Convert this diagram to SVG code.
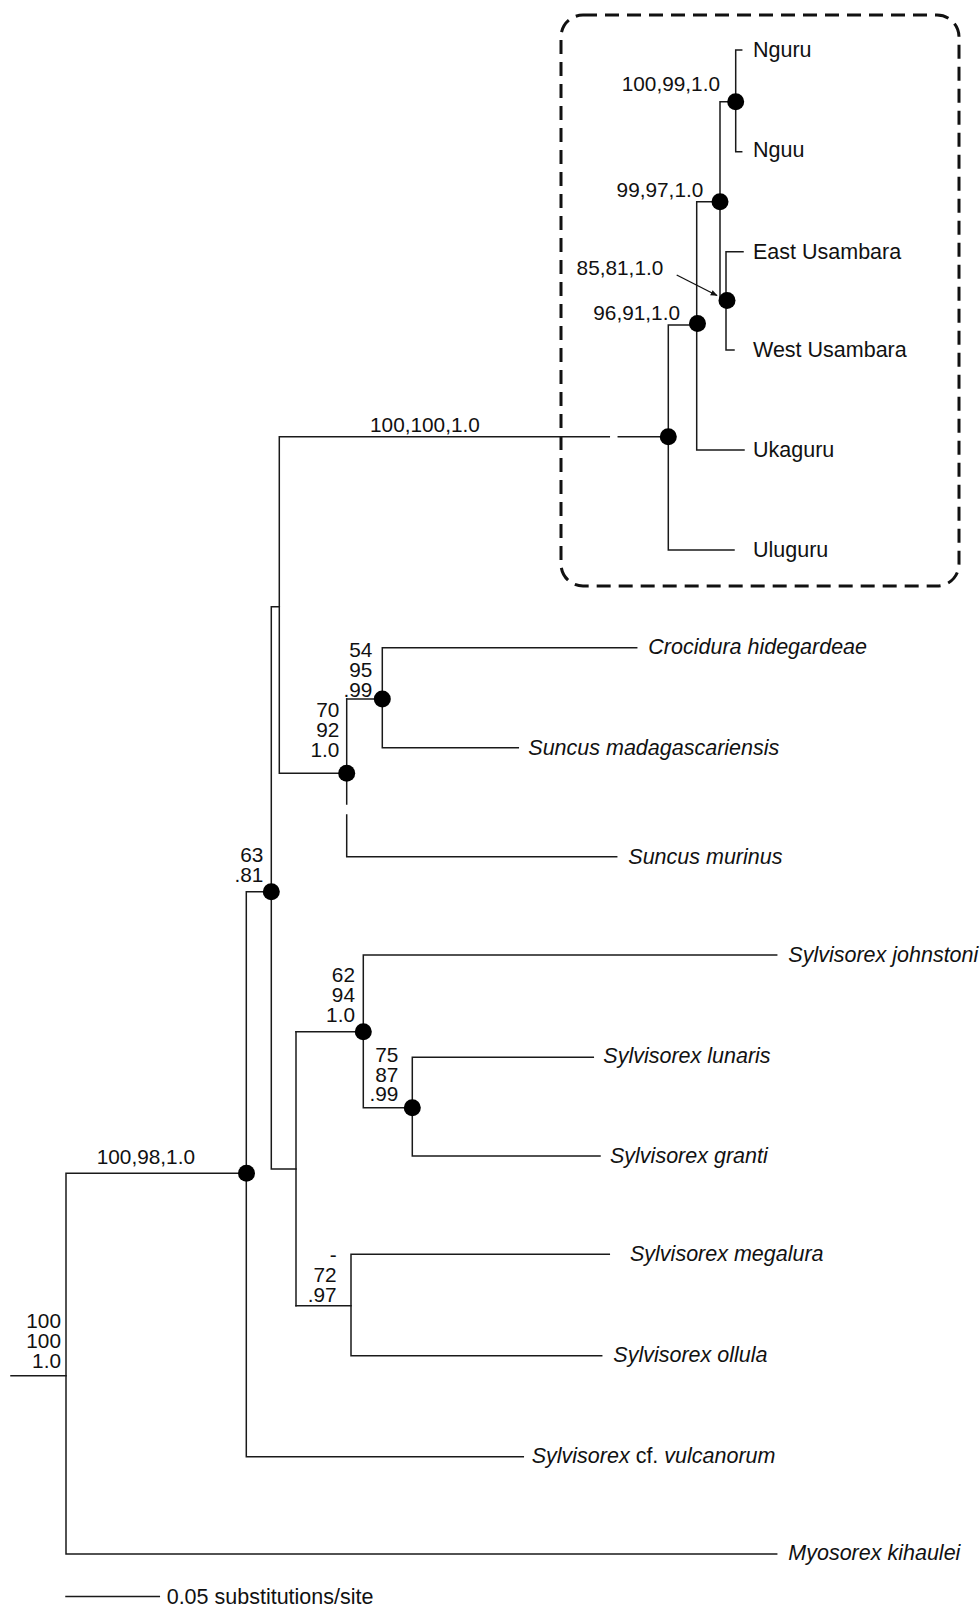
<svg xmlns="http://www.w3.org/2000/svg" width="980" height="1608" viewBox="0 0 980 1608">
<defs>
<style>
.br{fill:none;stroke:#1a1a1a;stroke-width:1.5;stroke-linecap:square}
.dot{fill:#000}
text{font-family:"Liberation Sans",Arial,Helvetica,sans-serif;font-size:21.5px;fill:#111}
.s{font-size:20.8px}
.it{font-style:italic}
.r{text-anchor:end}
.box{fill:none;stroke:#111;stroke-width:3;stroke-dasharray:14 8}
</style>
<marker id="ah" viewBox="0 0 10 10" refX="9" refY="5" markerWidth="7" markerHeight="7" orient="auto" markerUnits="userSpaceOnUse">
<path d="M0,1 L10,5 L0,9 z" fill="#111"/>
</marker>
</defs>
<rect width="980" height="1608" fill="#fff"/>

<rect id="eastern-arc-box" class="box" x="561" y="15" width="398" height="571" rx="22"/>

<g id="connectors">
<path class="br" d="M741.7,50 H735.7 V151.7 H741.7"/>
<path class="br" d="M735.7,101.7 H720 V300 H726"/>
<path class="br" d="M743,251.7 H726 V350 H734"/>
<path class="br" d="M720,201.7 H696.7 V450 H744"/>
<path class="br" d="M697,325 H668.3 V550 H734"/>
<path class="br" d="M668.3,436.7 H618.3"/>
<path class="br" d="M609.3,436.7 H279.3 V773.3 H346.7"/>
<path class="br" d="M346.7,699 V804"/>
<path class="br" d="M346.7,815 V856.7 H616.7"/>
<path class="br" d="M346.7,699 H382.3"/>
<path class="br" d="M636.7,647.7 H382.3 V747.7 H518.3"/>
<path class="br" d="M279.3,606.7 H271.3 V1169 H296"/>
<path class="br" d="M271.3,891.7 H246.3 V1456.7 H523.3"/>
<path class="br" d="M296,1031.7 V1305.7"/>
<path class="br" d="M296,1031.7 H363.3"/>
<path class="br" d="M776.7,955 H363.3 V1107.7 H412.3"/>
<path class="br" d="M593.3,1057.3 H412.3 V1156 H600"/>
<path class="br" d="M296,1305.7 H351"/>
<path class="br" d="M609.3,1254.3 H351 V1355.7 H601.7"/>
<path class="br" d="M246.3,1173.3 H66 V1554 H776.7"/>
<path class="br" d="M11,1375.7 H66"/>
<path d="M676.7,275 L717,295.5" fill="none" stroke="#111" stroke-width="1.3" marker-end="url(#ah)"/>
<path class="br" d="M66,1596.5 H159.3"/>
</g>

<g id="nodes">
<circle class="dot" cx="735.7" cy="101.7" r="8.5"/>
<circle class="dot" cx="720" cy="201.7" r="8.5"/>
<circle class="dot" cx="727" cy="300.5" r="8.5"/>
<circle class="dot" cx="697.5" cy="323.5" r="8.5"/>
<circle class="dot" cx="668.3" cy="436.7" r="8.5"/>
<circle class="dot" cx="382.3" cy="699" r="8.5"/>
<circle class="dot" cx="346.7" cy="773.3" r="8.5"/>
<circle class="dot" cx="271.3" cy="891.7" r="8.5"/>
<circle class="dot" cx="363.3" cy="1031.7" r="8.5"/>
<circle class="dot" cx="412.3" cy="1107.7" r="8.5"/>
<circle class="dot" cx="246.5" cy="1173.3" r="8.5"/>
</g>

<g id="tip-labels">
<text id="t-nguru" x="753" y="57">Nguru</text>
<text id="t-nguu" x="753" y="157">Nguu</text>
<text id="t-eusambara" x="753" y="258.5">East Usambara</text>
<text id="t-wusambara" x="753" y="357.3">West Usambara</text>
<text id="t-ukaguru" x="753" y="456.7">Ukaguru</text>
<text id="t-uluguru" x="753" y="556.7">Uluguru</text>
<text id="t-crocidura" class="it" x="648.3" y="653.5">Crocidura hidegardeae</text>
<text id="t-smadag" class="it" x="528.3" y="754.5">Suncus madagascariensis</text>
<text id="t-smurinus" class="it" x="628.3" y="863.5">Suncus murinus</text>
<text id="t-johnstoni" class="it" x="788.3" y="961.7">Sylvisorex johnstoni</text>
<text id="t-lunaris" class="it" x="603.3" y="1063.3">Sylvisorex lunaris</text>
<text id="t-granti" class="it" x="610" y="1163">Sylvisorex granti</text>
<text id="t-megalura" class="it" x="630" y="1261">Sylvisorex megalura</text>
<text id="t-ollula" class="it" x="613.3" y="1361.5">Sylvisorex ollula</text>
<text id="t-vulcanorum" x="531.7" y="1462.5"><tspan class="it">Sylvisorex</tspan> cf. <tspan class="it">vulcanorum</tspan></text>
<text id="t-myosorex" class="it" x="788.3" y="1560">Myosorex kihaulei</text>
</g>

<g id="support-labels" class="s">
<text class="r s" x="720" y="90.7">100,99,1.0</text>
<text class="r s" x="703.3" y="196.7">99,97,1.0</text>
<text class="r s" x="663.3" y="275">85,81,1.0</text>
<text class="r s" x="680" y="320">96,91,1.0</text>
<text class="s" x="370" y="431.7">100,100,1.0</text>
<text class="r s" x="372.3" y="657.3">54</text>
<text class="r s" x="372.3" y="677.3">95</text>
<text class="r s" x="372.3" y="697">.99</text>
<text class="r s" x="339.3" y="717.3">70</text>
<text class="r s" x="339.3" y="737.3">92</text>
<text class="r s" x="339.3" y="757">1.0</text>
<text class="r s" x="263.3" y="861.7">63</text>
<text class="r s" x="263.3" y="881.7">.81</text>
<text class="r s" x="355" y="982.3">62</text>
<text class="r s" x="355" y="1002.3">94</text>
<text class="r s" x="355" y="1021.7">1.0</text>
<text class="r s" x="398.3" y="1061.7">75</text>
<text class="r s" x="398.3" y="1081.7">87</text>
<text class="r s" x="398.3" y="1101">.99</text>
<text class="s" x="96.7" y="1164">100,98,1.0</text>
<text class="r s" x="336.7" y="1261.7">-</text>
<text class="r s" x="336.7" y="1281.7">72</text>
<text class="r s" x="336.7" y="1301.7">.97</text>
<text class="r s" x="61" y="1327.7">100</text>
<text class="r s" x="61" y="1347.7">100</text>
<text class="r s" x="61" y="1368">1.0</text>
<text x="166.7" y="1603.5">0.05 substitutions/site</text>
</g>
</svg>
